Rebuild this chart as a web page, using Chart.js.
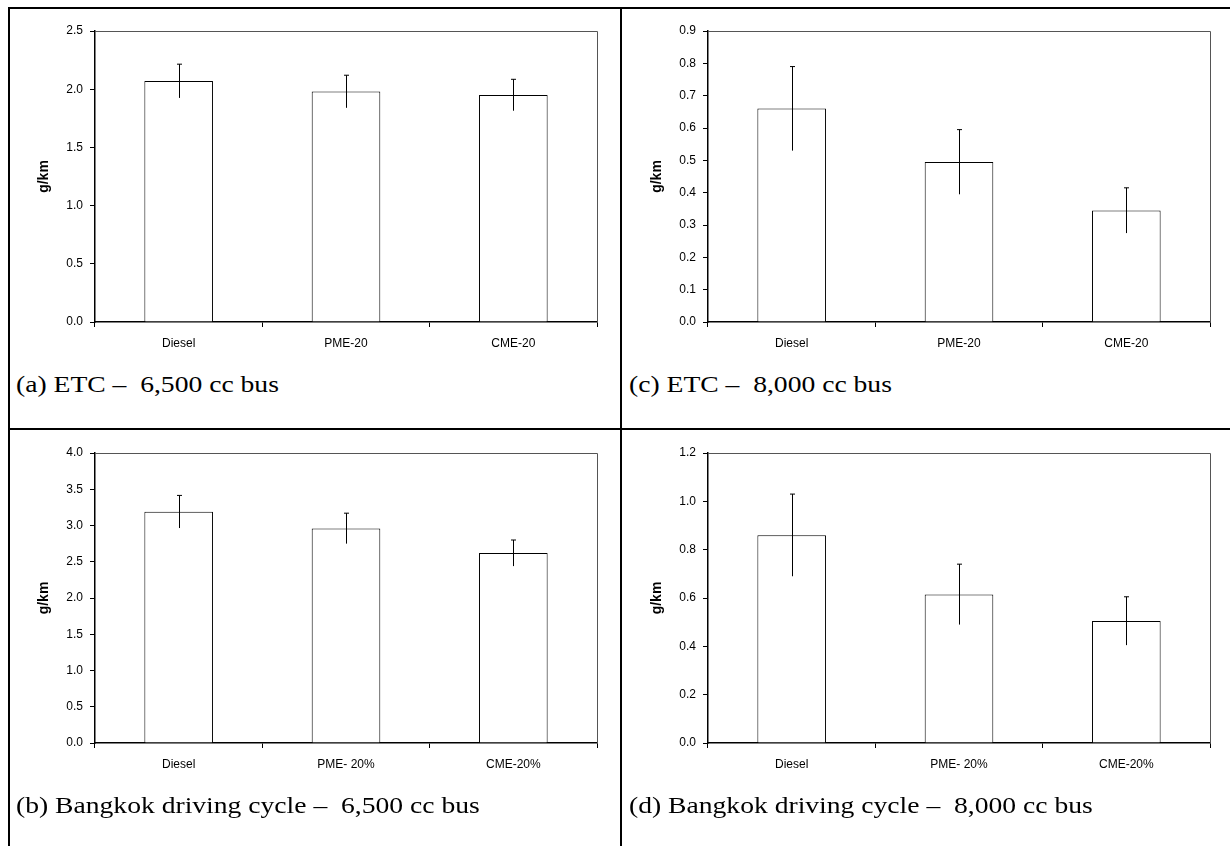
<!DOCTYPE html>
<html>
<head>
<meta charset="utf-8">
<script src="https://cdn.jsdelivr.net/npm/chart.js@4/dist/chart.umd.min.js"></script>
<style>
  body { margin: 0; background: #fff; }
  #page { position: relative; width: 1230px; height: 846px; overflow: hidden; }
  canvas { position: absolute; }
  .line { position: absolute; background: #000; }
  .caption { position: absolute; font-family: "Liberation Serif", "Times New Roman", serif; font-size: 24px; color: #000; white-space: pre; line-height: 28px; transform: scaleX(1.15); transform-origin: left center; }
</style>
</head>
<body>
<div id="page">
  <div class="line" style="left:8px; top:7px; width:1222px; height:2px;"></div>
  <div class="line" style="left:8px; top:428px; width:1222px; height:2px;"></div>
  <div class="line" style="left:8px; top:7px; width:2px; height:839px;"></div>
  <div class="line" style="left:620px; top:7px; width:2px; height:839px;"></div>

  <canvas id="etc6500" width="600" height="370" style="left:10px; top:0px;"></canvas>
  <canvas id="etc8000" width="600" height="370" style="left:623px; top:0px;"></canvas>
  <canvas id="bkk6500" width="600" height="370" style="left:10px; top:422px;"></canvas>
  <canvas id="bkk8000" width="600" height="370" style="left:623px; top:422px;"></canvas>

  <div class="caption" style="left:16px; top:370px;">(a) ETC –  6,500 cc bus</div>
  <div class="caption" style="left:629px; top:370px;">(c) ETC –  8,000 cc bus</div>
  <div class="caption" style="left:16px; top:791px;">(b) Bangkok driving cycle –  6,500 cc bus</div>
  <div class="caption" style="left:629px; top:791px;">(d) Bangkok driving cycle –  8,000 cc bus</div>
</div>

<script>
// DATA

const etcLabels = ["Diesel", "PME-20", "CME-20"];
const bkkLabels = ["Diesel", "PME- 20%", "CME-20%"];

// (a) ETC - 6,500 cc bus
const etc6500Values = [2.07, 1.98, 1.95];
const etc6500Errors = [0.145, 0.14, 0.135];

// (c) ETC - 8,000 cc bus
const etc8000Values = [0.66, 0.495, 0.345];
const etc8000Errors = [0.13, 0.10, 0.07];

// (b) Bangkok driving cycle - 6,500 cc bus
const bkk6500Values = [3.19, 2.96, 2.62];
const bkk6500Errors = [0.225, 0.21, 0.18];

// (d) Bangkok driving cycle - 8,000 cc bus
const bkk8000Values = [0.86, 0.615, 0.505];
const bkk8000Errors = [0.17, 0.125, 0.10];

// y axis ranges [max, step]
const etc6500Axis = [2.5, 0.5];
const etc8000Axis = [0.9, 0.1];
const bkk6500Axis = [4.0, 0.5];
const bkk8000Axis = [1.2, 0.2];


// PLUGINS

// error bars: vertical line with a cap on top only
const errorBars = {
    id: 'errorBars',
    afterDatasetsDraw(chart, args, opts) {
        const ctx = chart.ctx;
        const yScale = chart.scales.y;
        const meta = chart.getDatasetMeta(0);
        const values = chart.data.datasets[0].data;
        ctx.save();
        ctx.strokeStyle = '#000';
        ctx.lineWidth = 1;
        meta.data.forEach((bar, i) => {
            const x = Math.round(bar.x) + 0.5;
            const top = yScale.getPixelForValue(values[i] + opts.errors[i]);
            const bottom = yScale.getPixelForValue(values[i] - opts.errors[i]);
            ctx.beginPath();
            ctx.moveTo(x, top);
            ctx.lineTo(x, bottom);
            ctx.moveTo(x - 2.5, top);
            ctx.lineTo(x + 2.5, top);
            ctx.stroke();
        });
        ctx.restore();
    }
};

// top and right edge of the plot box
const plotFrame = {
    id: 'plotFrame',
    beforeDatasetsDraw(chart) {
        const ctx = chart.ctx;
        const a = chart.chartArea;
        ctx.save();
        ctx.strokeStyle = '#555';
        ctx.lineWidth = 1;
        ctx.beginPath();
        ctx.moveTo(a.left, Math.round(a.top) + 0.5);
        ctx.lineTo(Math.round(a.right) + 0.5, Math.round(a.top) + 0.5);
        ctx.lineTo(Math.round(a.right) + 0.5, a.bottom);
        ctx.stroke();
        ctx.restore();
    }
};


// CHART BUILDER

const tickFont = { family: "'Liberation Sans', Arial, sans-serif", size: 12 };

function makeBarChart(canvasId, labels, values, errors, axis, xHeight) {
    return new Chart(document.getElementById(canvasId), {
        type: 'bar',
        data: {
            labels: labels,
            datasets: [{
                data: values,
                backgroundColor: '#fff',
                borderColor: '#000',
                borderWidth: 1,
                barPercentage: 0.41,
                categoryPercentage: 1.0
            }]
        },
        options: {
            responsive: false,
            animation: false,
            layout: { padding: { left: 22, right: 13, top: 31, bottom: 0 } },
            plugins: {
                legend: { display: false },
                tooltip: { enabled: false },
                errorBars: { errors: errors }
            },
            scales: {
                x: {
                    grid: { display: true, drawOnChartArea: false, drawTicks: true, tickLength: 5, color: '#000', offset: true },
                    border: { display: true, color: '#000', width: 1.5 },
                    ticks: { color: '#000', font: tickFont, padding: 9, maxRotation: 0 },
                    afterFit: (scale) => { scale.height = xHeight; }
                },
                y: {
                    min: 0,
                    max: axis[0],
                    grid: { display: true, drawOnChartArea: false, drawTicks: true, tickLength: 5, color: '#000' },
                    border: { display: true, color: '#000', width: 1.5 },
                    ticks: {
                        stepSize: axis[1],
                        color: '#000',
                        font: tickFont,
                        padding: 7,
                        callback: (v) => Number(v).toFixed(1)
                    },
                    title: {
                        display: true,
                        text: 'g/km',
                        color: '#000',
                        font: { family: "'Liberation Sans', Arial, sans-serif", size: 14, weight: 'bold' },
                        padding: { top: 4, bottom: 0 }
                    },
                    afterFit: (scale) => { scale.width = 63; }
                }
            }
        },
        plugins: [plotFrame, errorBars]
    });
}

const etc6500Chart = makeBarChart('etc6500', etcLabels, etc6500Values, etc6500Errors, etc6500Axis, 48);
const etc8000Chart = makeBarChart('etc8000', etcLabels, etc8000Values, etc8000Errors, etc8000Axis, 48);
const bkk6500Chart = makeBarChart('bkk6500', bkkLabels, bkk6500Values, bkk6500Errors, bkk6500Axis, 49);
const bkk8000Chart = makeBarChart('bkk8000', bkkLabels, bkk8000Values, bkk8000Errors, bkk8000Axis, 49);
</script>
</body>
</html>
